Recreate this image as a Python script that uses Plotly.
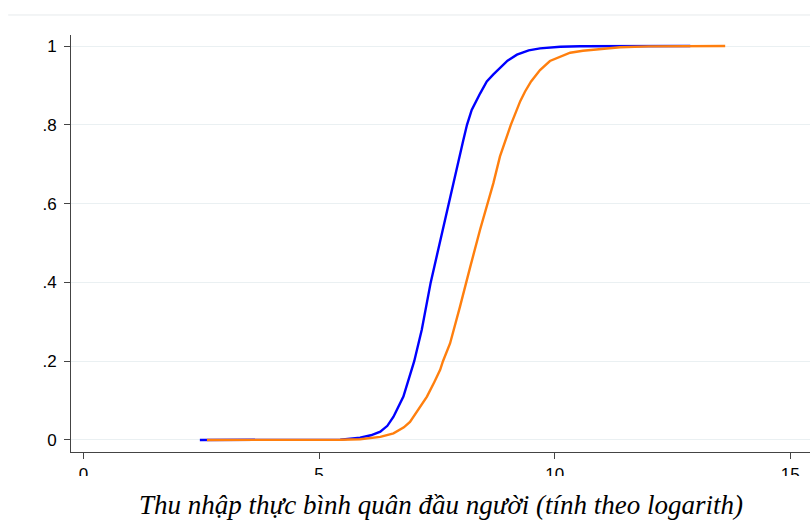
import plotly.graph_objects as go

blue_x = [2.47, 3.5, 4.5, 5.0, 5.45, 5.87, 6.10, 6.30, 6.45, 6.58, 6.79, 7.02, 7.18, 7.37,
          7.53, 7.64, 7.75, 7.85, 7.97, 8.06, 8.14, 8.24, 8.42, 8.56, 8.70, 8.84, 9.00,
          9.20, 9.45, 9.69, 10.12, 10.54, 11.5, 12.88]
blue_y = [0, 0, 0, 0.0005, 0.001, 0.006, 0.012, 0.021, 0.036, 0.059, 0.110, 0.200, 0.280,
          0.400, 0.485, 0.540, 0.600, 0.650, 0.710, 0.760, 0.800, 0.838, 0.880, 0.910,
          0.928, 0.945, 0.963, 0.978, 0.989, 0.994, 0.998, 0.9995, 1.0, 1.0]

orange_x = [2.62, 4.5, 5.45, 5.87, 6.30, 6.58, 6.80, 6.93, 7.10, 7.29, 7.45, 7.57, 7.63,
            7.78, 7.99, 8.12, 8.21, 8.42, 8.57, 8.70, 8.84, 8.99, 9.07, 9.27, 9.37, 9.50,
            9.69, 9.90, 10.12, 10.33, 10.60, 10.90, 11.39, 12.0, 12.66, 13.62]
orange_y = [0, 0, 0.0005, 0.002, 0.008, 0.017, 0.032, 0.046, 0.075, 0.110, 0.148, 0.178,
            0.200, 0.245, 0.338, 0.400, 0.440, 0.535, 0.600, 0.652, 0.720, 0.770, 0.800,
            0.860, 0.884, 0.910, 0.939, 0.962, 0.973, 0.983, 0.988, 0.992, 0.997, 0.999,
            1.0, 1.0]

x_ticks = [0, 5, 10, 15]
y_ticks = [0, 0.2, 0.4, 0.6, 0.8, 1]
y_tick_labels = ["0", ".2", ".4", ".6", ".8", "1"]
x_title = "Thu nhập thực bình quân đầu người (tính theo logarith)"

fig = go.Figure()
fig.add_trace(go.Scatter(x=blue_x, y=blue_y, mode="lines",
                         line=dict(color="#0000ff", width=2.4), showlegend=False))
fig.add_trace(go.Scatter(x=orange_x, y=orange_y, mode="lines",
                         line=dict(color="#ff7f0e", width=2.4), showlegend=False))

axis_col = "#444444"
fig.update_layout(
    width=810, height=520,
    margin=dict(l=71, r=0, t=35, b=68),
    paper_bgcolor="white", plot_bgcolor="white",
    font=dict(family="Liberation Sans, Arial, sans-serif", size=16, color="black"),
    xaxis=dict(range=[-0.265, 15.42], tickvals=x_ticks, ticktext=[str(v) for v in x_ticks],
               showgrid=False, zeroline=False, showline=True, linecolor=axis_col, linewidth=1,
               ticks="outside", ticklen=6, tickcolor=axis_col, tickwidth=1,
               tickfont=dict(size=17), ticklabelstandoff=1),
    yaxis=dict(range=[-0.0305, 1.028], tickvals=y_ticks, ticktext=y_tick_labels,
               showgrid=True, gridcolor="#eaf0f2", gridwidth=1, zeroline=False,
               showline=True, linecolor=axis_col, linewidth=1,
               ticks="outside", ticklen=6, tickcolor=axis_col, tickwidth=1,
               tickfont=dict(size=17), ticklabelstandoff=4),
    shapes=[
        dict(type="line", xref="paper", yref="paper", x0=-0.085, x1=1, y0=1.048, y1=1.048,
             line=dict(color="#e6eaec", width=1)),
        dict(type="rect", xref="paper", yref="paper", x0=-0.1, x1=1.0, y0=-0.0576, y1=-0.0959,
             fillcolor="white", line=dict(width=0), layer="above"),
    ],
    annotations=[
        dict(text=x_title, xref="paper", yref="paper", x=0.5, y=-0.127, showarrow=False,
             xanchor="center", yanchor="middle",
             font=dict(family="Liberation Serif, Times New Roman, serif", size=27,
                       color="black", style="italic")),
    ],
)

fig.write_html("out.html", post_script="document.body.style.margin='0';",
               config={"displayModeBar": False})
